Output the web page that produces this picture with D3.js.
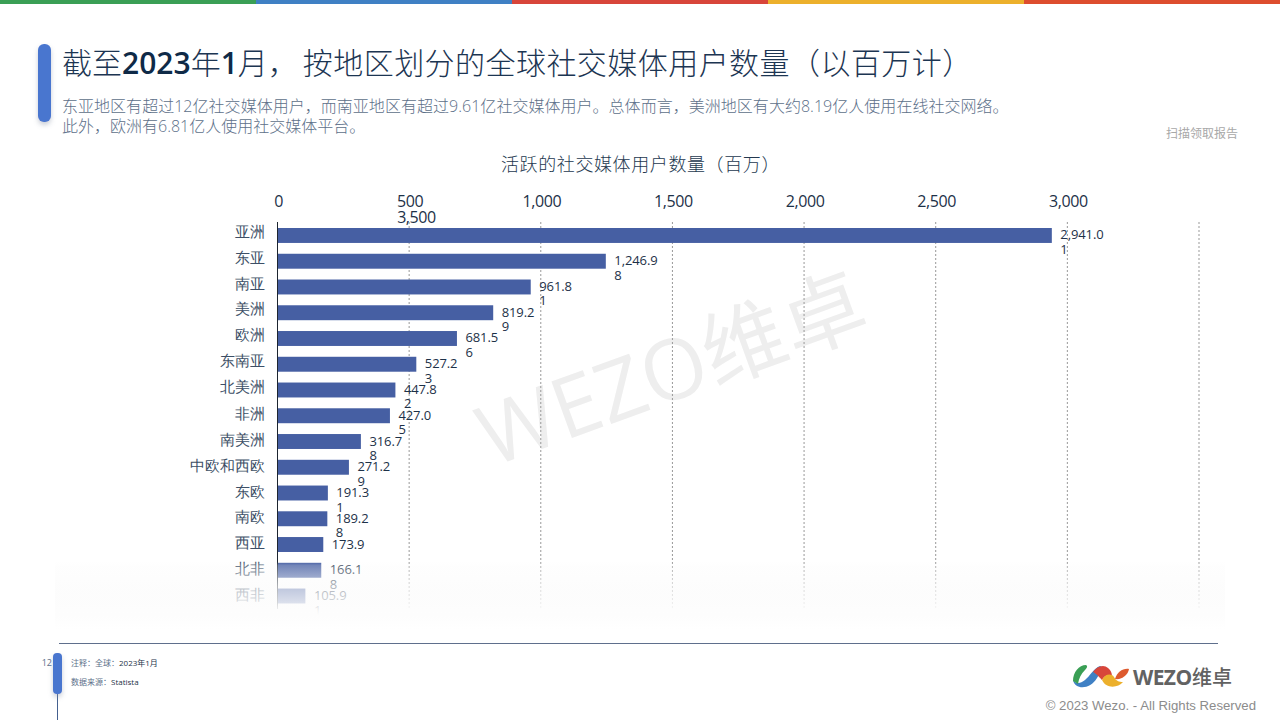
<!DOCTYPE html>
<html>
<head>
<meta charset="utf-8">
<script src="https://cdn.jsdelivr.net/npm/d3@7"></script>
<style>
  html, body { margin: 0; padding: 0; background: #fff; }
  svg { display: block; font-family: "Open Sans", "Noto Sans CJK SC", sans-serif; }
</style>
</head>
<body>
<svg id="chart" width="1280" height="720"></svg>
<script>
const categories = ["亚洲","东亚","南亚","美洲","欧洲","东南亚","北美洲","非洲","南美洲","中欧和西欧","东欧","南欧","西亚","北非","西非"];
const users = [2941.01,1246.98,961.81,819.29,681.56,527.23,447.82,427.05,316.78,271.29,191.31,189.28,173.9,166.18,105.91];
const xTicks = [0,500,1000,1500,2000,2500,3000,3500];
const stripColors = ["#3a9f55","#3f80c4","#d8453a","#ecb02c","#dd4d2e"];

const svg = d3.select("#chart");
const defs = svg.append("defs");

// top colour strip
svg.selectAll(".strip").data(stripColors).join("rect")
  .attr("class","strip")
  .attr("x",(d,i)=>i*256).attr("y",0)
  .attr("width",256).attr("height",4)
  .attr("fill",d=>d);

const shadow = defs.append("filter").attr("id","pillShadow")
  .attr("x","-60%").attr("y","-20%").attr("width","220%").attr("height","140%");
shadow.append("feDropShadow").attr("dx",0).attr("dy",3).attr("stdDeviation",2.5)
  .attr("flood-color","#8a94a8").attr("flood-opacity",0.45);

// heading
svg.append("rect").attr("x",38).attr("y",44).attr("width",13).attr("height",78).attr("rx",6)
  .attr("fill","#4a76cf").attr("filter","url(#pillShadow)");
svg.append("text").attr("x",62).attr("y",74).attr("font-size",30).attr("font-weight",300).attr("fill","#1c3552")
  .html('截至<tspan font-weight="600" fill="#0f2a47">2023</tspan>年<tspan font-weight="600" fill="#0f2a47">1</tspan>月，<tspan dx="5" letter-spacing="0.45">按地区划分的全球社交媒体用户数量（以百万计）</tspan>');
svg.append("text").attr("x",62).attr("y",112).attr("font-size",16).attr("font-weight",300).attr("letter-spacing",0.03).attr("fill","#5d7089")
  .text("东亚地区有超过12亿社交媒体用户，而南亚地区有超过9.61亿社交媒体用户。总体而言，美洲地区有大约8.19亿人使用在线社交网络。");
svg.append("text").attr("x",62).attr("y",132).attr("font-size",16).attr("font-weight",300).attr("fill","#5d7089")
  .text("此外，欧洲有6.81亿人使用社交媒体平台。");
svg.append("text").attr("x",1238).attr("y",138).attr("text-anchor","end").attr("font-size",12).attr("fill","#a8a8a8")
  .text("扫描领取报告");

// watermark
svg.append("text").attr("transform","translate(682,398) rotate(-20)")
  .attr("text-anchor","middle").attr("font-size",84).attr("font-weight",400)
  .attr("fill","#eeeeee").text("WEZO维卓");

// chart
const x = d3.scaleLinear().domain([0,3500]).range([277.5,1199]);
const y = d3.scaleBand().domain(categories).range([222.6,608.9]).paddingInner(0.42).paddingOuter(0.21);

svg.append("text").attr("x",501).attr("y",171)
  .attr("font-size",18).attr("font-weight",300).attr("letter-spacing",0.6).attr("fill","#24384f").text("活跃的社交媒体用户数量（百万）");

// gridlines
svg.selectAll(".grid").data(xTicks.slice(1)).join("line")
  .attr("class","grid")
  .attr("x1",d=>x(d)).attr("x2",d=>x(d))
  .attr("y1",222).attr("y2",609)
  .attr("stroke","#999").attr("stroke-width",1).attr("stroke-dasharray","2 2");

// top axis, 3,500 wrapped to a second row as in the source
const xAxis = d3.axisTop(x).tickValues(xTicks.slice(0,-1)).tickSize(0).tickPadding(0).tickFormat(d3.format(","));
const axisG = svg.append("g").attr("transform","translate(0.5,207)").call(xAxis);
axisG.select(".domain").remove();
axisG.selectAll("text").attr("font-size",16).attr("letter-spacing",-0.4).attr("fill","#1d3148")
  .attr("font-family",'"Open Sans", sans-serif');
svg.append("text").attr("x",416.5).attr("y",223).attr("text-anchor","middle")
  .attr("font-size",16).attr("letter-spacing",-0.4).attr("fill","#1d3148").text(d3.format(",")(xTicks[7]));

// bars
svg.selectAll(".bar").data(users).join("rect")
  .attr("class","bar")
  .attr("x",x(0))
  .attr("y",(d,i)=>y(categories[i]))
  .attr("width",d=>x(d)-x(0))
  .attr("height",y.bandwidth())
  .attr("fill","#465fa3");

// left axis
const yAxis = d3.axisLeft(y).tickSize(0).tickPadding(13);
const yG = svg.append("g").attr("transform",`translate(${x(0)},0)`).call(yAxis);
yG.select(".domain").attr("stroke","#1d2530").attr("stroke-width",1).attr("d","M0,222V609");
yG.selectAll("text").attr("font-size",14.5).attr("font-weight",300).attr("fill","#3d4f66")
  .attr("transform",(d,i)=>`translate(0,${i<7?-3:-1})`);

// value labels wrap the last digit onto a second line
const labels = svg.selectAll(".val").data(users).join("text")
  .attr("class","val")
  .attr("font-size",13).attr("letter-spacing",-0.1).attr("fill","#1d3148")
  .attr("y",(d,i)=>y(categories[i])+y.bandwidth()/2+4);
labels.each(function(d){
  const s = d3.format(",")(d);
  const wrap = s.split(".")[1].length===2;
  const t = d3.select(this);
  const px = x(d)+8.5;
  t.append("tspan").attr("x",px).text(wrap?s.slice(0,-1):s);
  if(wrap) t.append("tspan").attr("x",px).attr("dy",14.5).text(s.slice(-1));
});

// bottom fade
const fade = defs.append("linearGradient").attr("id","fade").attr("x1",0).attr("x2",0).attr("y1",0).attr("y2",1);
[[0,"#fafafa",0],[0.05,"#fafafa",0.25],[0.2,"#fbfbfb",0.45],[0.36,"#fbfbfb",0.65],[0.6,"#fcfcfc",0.82],[0.72,"#fdfdfd",0.95],[0.78,"#fdfdfd",1],[1,"#ffffff",1]]
  .forEach(s=>fade.append("stop").attr("offset",s[0]).attr("stop-color",s[1]).attr("stop-opacity",s[2]));
svg.append("rect").attr("x",55).attr("y",562).attr("width",1170).attr("height",68).attr("fill","url(#fade)");

// footer
svg.append("line").attr("x1",59).attr("x2",1218).attr("y1",643.5).attr("y2",643.5).attr("stroke","#5f6f8c").attr("stroke-width",1);
svg.append("line").attr("x1",57.5).attr("x2",57.5).attr("y1",690).attr("y2",720).attr("stroke","#44608f").attr("stroke-width",1);
svg.append("rect").attr("x",53).attr("y",653).attr("width",9).attr("height",41).attr("rx",4)
  .attr("fill","#4a76cf").attr("filter","url(#pillShadow)");
svg.append("text").attr("x",52).attr("y",666).attr("text-anchor","end").attr("font-size",9).attr("fill","#5d7089").text("12");
svg.append("text").attr("x",71).attr("y",666).attr("font-size",8).attr("fill","#5d7089")
  .html('注释：全球：<tspan fill="#1d3148">2023年1月</tspan>');
svg.append("text").attr("x",71).attr("y",685).attr("font-size",8).attr("fill","#5d7089")
  .html('数据来源：<tspan fill="#1d3148">Statista</tspan>');

// logo
const logo = svg.append("g");
logo.append("path").attr("fill","#3f80c4").attr("d","M1073,680C1075,690 1090,690 1097,678C1100,673 1102,670 1105,668L1100,666C1094,668 1090,676 1085,680C1080,684 1076,684 1073,680Z");
logo.append("path").attr("fill","#3a9f55").attr("d","M1073,681C1073,672 1079,665 1086,665C1088,666 1087,668 1085,670C1081,674 1079,678 1078,684Z");
logo.append("path").attr("fill","#d8453a").attr("d","M1093,672C1097,666 1104,664 1108,668C1112,671 1112,675 1112,677C1108,674 1104,676 1102,680C1100,678 1098,675 1093,672Z");
logo.append("path").attr("fill","#ecb02c").attr("d","M1102,680C1105,674 1111,673 1114,677C1116,681 1119,682 1123,682C1118,688 1106,689 1102,680Z");
logo.append("path").attr("fill","#dd5a2e").attr("d","M1115,679C1117,672 1123,668 1129,669C1128,675 1122,680 1115,679Z");
svg.append("text").attr("x",1133).attr("y",685).attr("font-size",21).attr("font-weight",700).attr("fill","#626262")
  .attr("font-family",'"Open Sans", sans-serif').attr("letter-spacing",-0.6).text("WEZO");
svg.append("text").attr("x",1192).attr("y",685).attr("font-size",20).attr("font-weight",500).attr("fill","#626262").text("维卓");
svg.append("text").attr("x",1256).attr("y",710).attr("text-anchor","end").attr("font-size",13.2)
  .attr("font-family",'"Liberation Sans", sans-serif').attr("fill","#8c8c8c").text("© 2023 Wezo. - All Rights Reserved");
</script>
</body>
</html>
